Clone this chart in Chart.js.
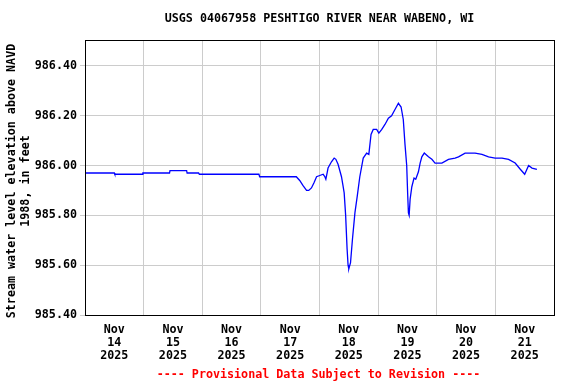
<!DOCTYPE html>
<html>
<head>
<meta charset="utf-8">
<script src="https://cdn.jsdelivr.net/npm/chart.js@4.4.1/dist/chart.umd.min.js"></script>
<style>
  html, body { margin: 0; padding: 0; background: #ffffff; }
  #wrap { width: 576px; height: 384px; position: relative; }
</style>
</head>
<body>
<div id="wrap"><canvas id="c" width="576" height="384"></canvas></div>
<script>
// Hours since Nov 14 2025 00:00
const hours = [
  0, 12, 12.2, 23.5, 23.7, 34.6, 34.8, 41.6, 41.8, 46.5,
  46.8, 71.2, 71.5, 86.5, 87.9, 89.2, 90.7, 91.6, 92.7, 93.7,
  94.8, 96.1, 97.5, 98.2, 98.6, 99.1, 99.5, 100.9, 102, 102.7,
  103.6, 104.3, 105, 105.6, 106.1, 106.7, 107.3, 107.7, 108, 108.7,
  109.5, 110.5, 111.5, 112.5, 113.9, 115.3, 116.2, 117.1, 118, 119.4,
  120.3, 121.5, 122.8, 124.2, 125.5, 126.9, 128.3, 129.4, 130.3, 131,
  131.7, 132.1, 132.4, 132.7, 133.1, 133.8, 134.7, 135.4, 136.5, 137.2,
  137.9, 138.9, 140.6, 142, 143.3, 146.1, 148.8, 151.5, 152.9, 155.6,
  159.7, 162.5, 165.2, 167.9, 170.7, 173.4, 176.1, 178.2, 180, 181.6,
  183, 185
];
// Stream water level elevation (ft above NAVD 1988)
const levels = [
  985.97, 985.97, 985.965, 985.965, 985.97, 985.97, 985.98, 985.98, 985.97, 985.97,
  985.965, 985.965, 985.955, 985.955, 985.94, 985.92, 985.90, 985.90, 985.91, 985.93,
  985.955, 985.96, 985.965, 985.955, 985.945, 985.97, 985.99, 986.015, 986.03, 986.025,
  986.005, 985.98, 985.955, 985.92, 985.89, 985.80, 985.665, 985.60, 985.585, 985.61,
  985.705, 985.81, 985.88, 985.955, 986.03, 986.05, 986.045, 986.125, 986.145, 986.145,
  986.13, 986.145, 986.165, 986.19, 986.20, 986.225, 986.25, 986.235, 986.185, 986.085,
  986.00, 985.885, 985.81, 985.80, 985.865, 985.915, 985.95, 985.945, 985.975, 986.01,
  986.035, 986.05, 986.035, 986.025, 986.01, 986.01, 986.025, 986.03, 986.035, 986.05,
  986.05, 986.045, 986.035, 986.03, 986.03, 986.025, 986.01, 985.985, 985.965, 986.00,
  985.99, 985.985
];
const dayLabels = ['14', '15', '16', '17', '18', '19', '20', '21'];
const monthLabel = 'Nov';
const yearLabel = '2025';
const yTicks = [985.40, 985.60, 985.80, 986.00, 986.20, 986.40];
const titleText = 'USGS 04067958 PESHTIGO RIVER NEAR WABENO, WI';
const footerText = '---- Provisional Data Subject to Revision ----';
const yTitle = ['Stream water level elevation above NAVD', '1988, in feet'];

const FONT = "'DejaVu Sans Mono', monospace";
const points = hours.map((h, i) => ({ x: h, y: levels[i] }));

const textPlugin = {
  id: 'texts',
  afterDraw(chart) {
    const ctx = chart.ctx;
    const a = chart.chartArea;
    ctx.save();
    // frame
    ctx.strokeStyle = '#000000';
    ctx.lineWidth = 1;
    ctx.strokeRect(Math.round(a.left) + 0.5, Math.round(a.top) + 0.5,
      Math.round(a.right - a.left), Math.round(a.bottom - a.top));
    ctx.font = "bold 11.7px " + FONT;
    ctx.textAlign = 'center';
    ctx.textBaseline = 'middle';
    const cx = (a.left + a.right) / 2;
    ctx.fillStyle = '#000000';
    ctx.fillText(titleText, cx, 19);
    // y axis title (rotated, two lines)
    ctx.save();
    ctx.translate(11.5, 181);
    ctx.rotate(-Math.PI / 2);
    ctx.fillText(yTitle[0], 0, 0);
    ctx.fillText(yTitle[1], 0, 14);
    ctx.restore();
    ctx.fillStyle = '#ff0000';
    ctx.fillText(footerText, cx - 1, 375);
    ctx.restore();
  }
};

new Chart(document.getElementById('c'), {
  type: 'line',
  data: {
    datasets: [{
      data: points,
      borderColor: '#0000ff',
      borderWidth: 1.3,
      pointRadius: 0,
      tension: 0,
      fill: false
    }]
  },
  options: {
    responsive: false,
    animation: false,
    devicePixelRatio: 1,
    layout: { padding: { top: 40, left: 0, right: 22, bottom: 0 } },
    plugins: {
      legend: { display: false },
      tooltip: { enabled: false },
      title: { display: false }
    },
    scales: {
      x: {
        type: 'linear',
        min: 0,
        max: 192,
        afterFit(scale) { scale.height = 69; },
        afterBuildTicks(scale) {
          const t = [];
          for (let v = 0; v <= 192; v += 12) t.push({ value: v });
          scale.ticks = t;
        },
        grid: {
          color: (c) => (c.tick && c.tick.value % 24 === 0 && c.tick.value > 0 && c.tick.value < 192) ? '#cccccc' : 'rgba(0,0,0,0)',
          lineWidth: 1,
          drawTicks: false
        },
        border: { color: '#000000', width: 1 },
        ticks: {
          autoSkip: false,
          maxRotation: 0,
          padding: 9,
          color: '#000000',
          font: { family: FONT, size: 11.7, weight: 'bold', lineHeight: 1.1 },
          callback: (v) => {
            if (v % 24 !== 12) return '';
            const d = Math.floor(v / 24);
            return [monthLabel, dayLabels[d], yearLabel];
          }
        }
      },
      y: {
        type: 'linear',
        min: 985.40,
        max: 986.504,
        afterFit(scale) { scale.width = 85; },
        afterBuildTicks(scale) {
          scale.ticks = yTicks.map(v => ({ value: v }));
        },
        grid: {
          color: '#cccccc',
          lineWidth: 1,
          drawTicks: true,
          tickLength: 5
        },
        border: { color: '#000000', width: 1 },
        ticks: {
          padding: 3,
          color: '#000000',
          font: { family: FONT, size: 11.7, weight: 'bold' },
          callback: (v) => Number(v).toFixed(2)
        },
        title: { display: false }
      }
    }
  },
  plugins: [textPlugin]
});
</script>
</body>
</html>
